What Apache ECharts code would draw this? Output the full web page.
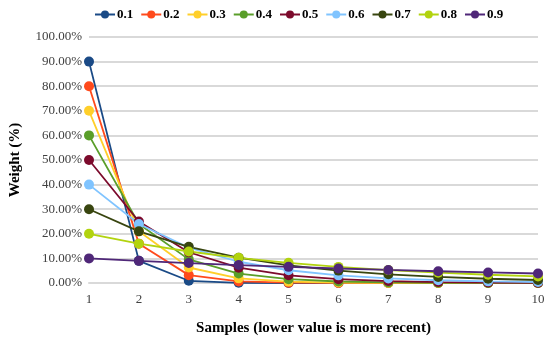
<!DOCTYPE html>
<html><head><meta charset="utf-8">
<script src="https://cdn.jsdelivr.net/npm/echarts@6/dist/echarts.min.js"></script>
<style>html,body{margin:0;padding:0;background:#fff}#c{width:550px;height:341px}</style>
</head><body><div id="c"></div>
<script>
var categories = ['1','2','3','4','5','6','7','8','9','10'];
var seriesNames = ['0.1','0.2','0.3','0.4','0.5','0.6','0.7','0.8','0.9'];
var colors = ['#1a4a86','#ff4a1c','#ffcf2a','#5a9e2a','#7c0a2c','#80c4ff','#38450f','#b2d30f','#4f2778'];
var s01 = [90, 9, 0.9, 0.09, 0.01, 0, 0, 0, 0, 0];
var s02 = [80, 16, 3.2, 0.64, 0.13, 0.03, 0.01, 0, 0, 0];
var s03 = [70, 21, 6.3, 1.89, 0.57, 0.17, 0.05, 0.02, 0.01, 0];
var s04 = [60, 24, 9.6, 3.84, 1.54, 0.61, 0.25, 0.1, 0.04, 0.02];
var s05 = [50, 25, 12.5, 6.25, 3.13, 1.56, 0.78, 0.39, 0.2, 0.1];
var s06 = [40, 24, 14.4, 8.64, 5.18, 3.11, 1.87, 1.12, 0.67, 0.4];
var s07 = [30, 21, 14.7, 10.29, 7.2, 5.04, 3.53, 2.47, 1.73, 1.21];
var s08 = [20, 16, 12.8, 10.24, 8.19, 6.55, 5.24, 4.19, 3.36, 2.68];
var s09 = [10, 9, 8.1, 7.29, 6.56, 5.9, 5.31, 4.78, 4.3, 3.87];
var data = [s01,s02,s03,s04,s05,s06,s07,s08,s09];

var font = '"Liberation Serif", "DejaVu Serif", serif';
var chart = echarts.init(document.getElementById('c'));
chart.setOption({
  animation: false,
  color: colors,
  textStyle: {fontFamily: font},
  legend: {
    top: 3, left: 89, width: 460,
    itemWidth: 20, itemHeight: 10, itemGap: 7,
    textStyle: {fontFamily: font, fontWeight: 'bold', fontSize: 13, color: '#000', padding: [0,0,0,-3]},
    data: seriesNames
  },
  grid: {left: 88, right: 12, top: 37, bottom: 54, containLabel: false},
  xAxis: {
    type: 'category', data: categories, boundaryGap: false,
    name: 'Samples (lower value is more recent)', nameLocation: 'middle', nameGap: 38,
    nameTextStyle: {fontFamily: font, fontWeight: 'bold', fontSize: 15, color: '#000'},
    axisLine: {lineStyle: {color: '#d9d9d9', width: 2}},
    axisTick: {show: false},
    axisLabel: {fontFamily: font, fontSize: 13, color: '#404040', margin: 10}
  },
  yAxis: {
    type: 'value', min: 0, max: 100, interval: 10,
    name: 'Weight (%)', nameLocation: 'middle', nameGap: 66,
    nameTextStyle: {fontFamily: font, fontWeight: 'bold', fontSize: 15, color: '#000'},
    axisLine: {show: false}, axisTick: {show: false},
    splitLine: {lineStyle: {color: '#d9d9d9', width: 2}},
    axisLabel: {fontFamily: font, fontSize: 13, color: '#404040', margin: 7,
      formatter: function(v){ return v.toFixed(2) + '%'; }}
  },
  series: seriesNames.map(function(n, i){
    return {name: n, type: 'line', data: data[i], symbol: 'circle', symbolSize: 10,
      lineStyle: {width: 1.8}, itemStyle: {color: colors[i]}};
  })
});
</script></body></html>
